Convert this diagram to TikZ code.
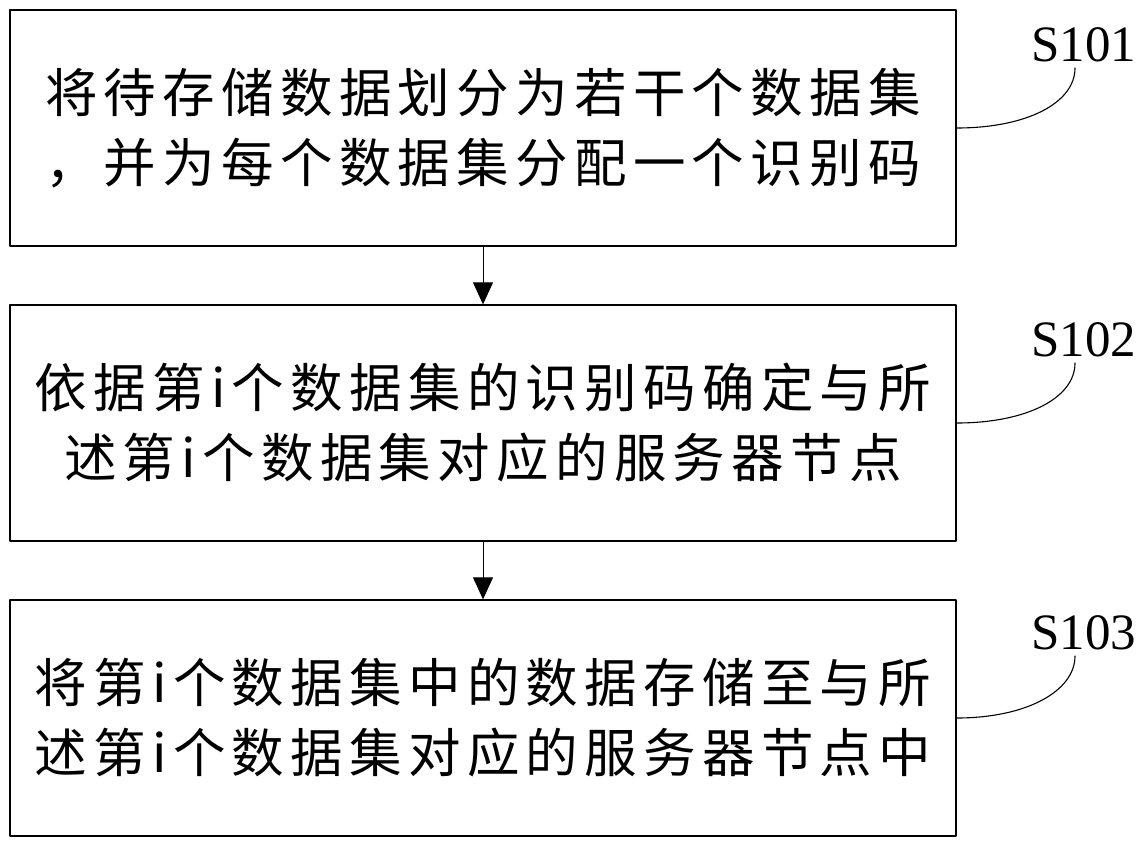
\documentclass[tikz,border=0pt]{standalone}
\usepackage{fontspec}
\setmainfont{Liberation Serif}
\newfontfamily\cjk{Noto Sans CJK SC}[LetterSpace=12]
\usetikzlibrary{arrows.meta}
\tikzset{
  stepbox/.style={draw, line width=1.3pt, minimum width=946pt, minimum height=236pt,
    inner sep=0pt, align=center, font=\cjk\fontsize{52.5}{70}\selectfont},
  steplabel/.style={font=\fontsize{51}{51}\selectfont, inner sep=0pt},
  flow/.style={line width=0.9pt, -{Triangle[length=22pt,width=20pt]}},
  hook/.style={line width=1.1pt}
}
\begin{document}
\begin{tikzpicture}[x=1pt, y=-1pt, line join=round, line cap=round]
\useasboundingbox (0,0) rectangle (1147,849);
\def\xmid{483}
% the three steps
\node[stepbox] (s1) at (\xmid,128) {将待存储数据划分为若干个数据集\\，并为每个数据集分配一个识别码};
\node[stepbox] (s2) at (\xmid,423) {依据第i个数据集的识别码确定与所\\述第i个数据集对应的服务器节点};
\node[stepbox] (s3) at (\xmid,718) {将第i个数据集中的数据存储至与所\\述第i个数据集对应的服务器节点中};
% labels
\foreach \n/\y in {1/45,2/340,3/633}{
  \node[steplabel] (l\n) at (1084,\y) {S10\n};
  \coordinate (e\n) at (1075,\y+23);
  \draw[hook] (s\n.east) .. controls +(70,0) and +(0,35) .. (e\n);
}
\draw[flow] (s1) -- (s2);
\draw[flow] (s2) -- (s3);
\end{tikzpicture}
\end{document}
